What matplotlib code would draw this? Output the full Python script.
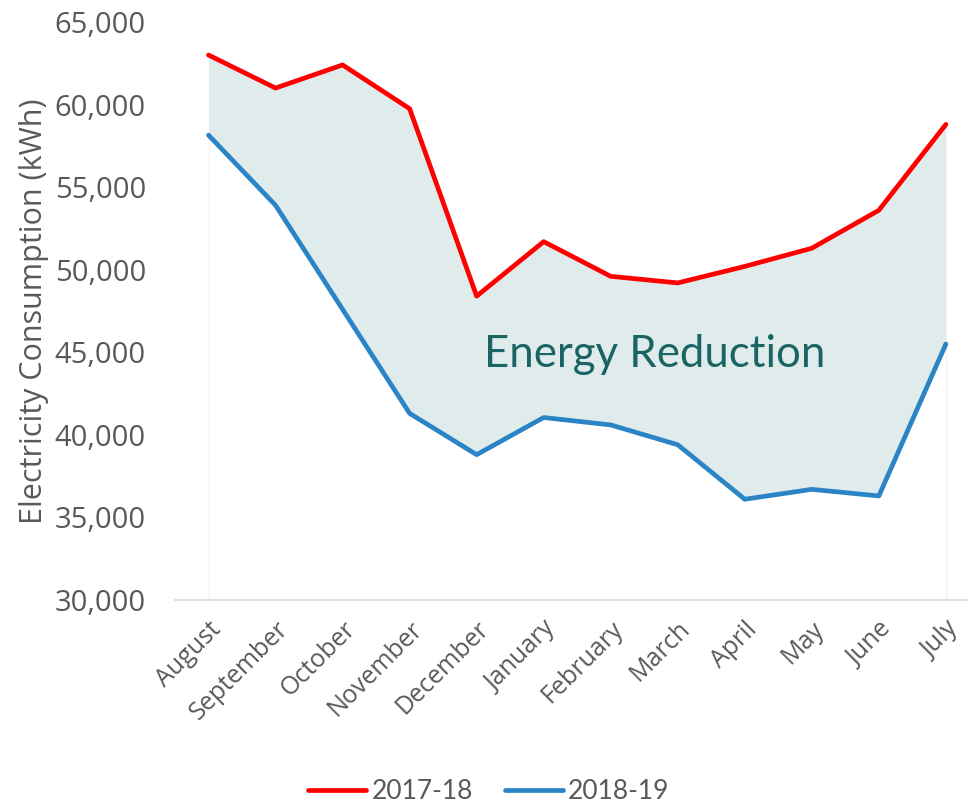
import matplotlib
matplotlib.use("Agg")
import matplotlib.pyplot as plt
import numpy as np

months = ["August", "September", "October", "November", "December", "January",
          "February", "March", "April", "May", "June", "July"]
y2017_18 = [63000, 61000, 62400, 59750, 48400, 51700, 49600, 49200, 50200, 51300, 53600, 58800]
y2018_19 = [58150, 53900, 47600, 41300, 38800, 41050, 40600, 39400, 36100, 36700, 36300, 45500]
yticks = [30000, 35000, 40000, 45000, 50000, 55000, 60000, 65000]

fig = plt.figure(figsize=(9.68, 8.06), dpi=100)
ax = fig.add_axes([0.1808, 0.2556, 0.8192, 0.7171])

x = np.arange(len(months))
ax.fill_between(x, y2018_19, y2017_18, color="#e0ecec", linewidth=0, zorder=1)
ax.vlines([x[0], x[-1]], 30000, [y2018_19[0], y2018_19[-1]], color="#f4f4f4", linewidth=1, zorder=0)
ax.plot(x, y2017_18, color="#ff0000", linewidth=3.4, solid_joinstyle="round",
        solid_capstyle="round", label="2017-18", zorder=3)
ax.plot(x, y2018_19, color="#2a84c6", linewidth=3.4, solid_joinstyle="round",
        solid_capstyle="round", label="2018-19", zorder=3)

ax.text(6.66, 44850, "Energy Reduction", fontsize=31.5, color="#1b6464",
        family="Lato", ha="center", va="center", zorder=4)

ax.set_xlim(-0.5, 11.33)
ax.set_ylim(30000, 65000)
ax.set_yticks(yticks)
ax.set_yticklabels([f"{v:,}" for v in yticks], family="Open Sans", fontsize=21, color="#595959")
ax.set_xticks(x)
ax.set_xticklabels(months, rotation=45, ha="right", rotation_mode="anchor",
                   family="Open Sans", fontsize=18, color="#595959")
ax.tick_params(axis="both", length=0)
ax.tick_params(axis="y", pad=21)
ax.tick_params(axis="x", pad=12)
for s in ["top", "right", "left"]:
    ax.spines[s].set_visible(False)
ax.spines["bottom"].set_color("#d9d9d9")
ax.spines["bottom"].set_linewidth(1.2)

ax.set_ylabel("Electricity Consumption (kWh)", family="Open Sans", fontsize=22,
              color="#595959", labelpad=4)

leg = fig.legend(loc="center", bbox_to_anchor=(0.505, 0.018), ncol=2, frameon=False,
                 prop={"family": "Lato", "size": 19}, handlelength=2.2, handletextpad=0.2,
                 columnspacing=1.2)
for t in leg.get_texts():
    t.set_color("#595959")

fig.savefig("out.png", dpi=100)
